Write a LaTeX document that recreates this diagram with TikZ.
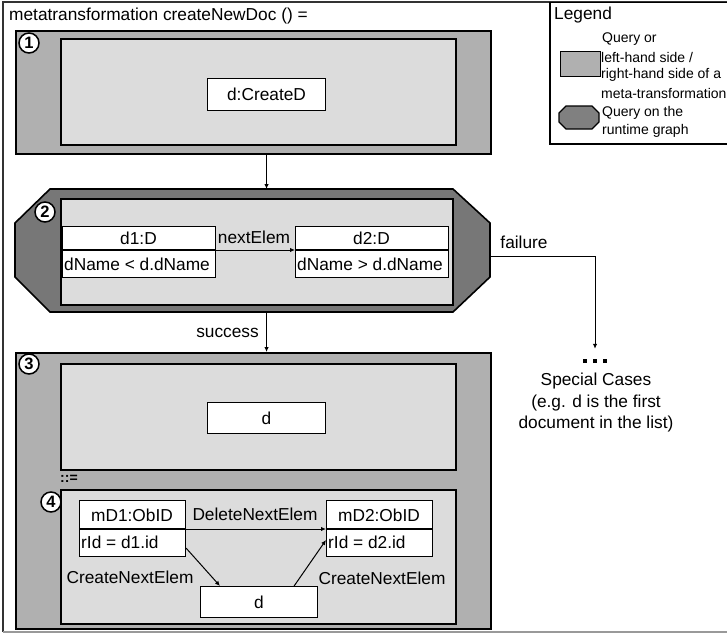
\documentclass[tikz,border=0pt]{standalone}
\usepackage{fontspec}
\setmainfont{Liberation Sans}
\usetikzlibrary{arrows.meta}
\definecolor{midgray}{HTML}{B0B0B0}
\definecolor{lightgray2}{HTML}{DCDCDC}
\definecolor{darkgray2}{HTML}{777777}
\definecolor{leggray}{HTML}{808080}
\begin{document}
\begin{tikzpicture}[x=1pt,y=-1pt,
  outerblk/.style={draw=black, line width=1.6pt, fill=midgray, inner sep=0pt, anchor=north west},
  innerblk/.style={draw=black, line width=1.6pt, fill=lightgray2, inner sep=0pt, anchor=north west},
  wbox/.style={draw=black, line width=1.1pt, fill=white, inner sep=0pt, anchor=north west, font=\fontsize{17.3}{20}\selectfont},
  lbl/.style={font=\fontsize{17.3}{21.5}\selectfont, inner sep=0pt},
  smalllbl/.style={font=\fontsize{14}{18}\selectfont, inner sep=0pt, anchor=west},
  circ/.style={circle, draw=black, fill=white, line width=1.5pt, minimum size=20pt, inner sep=0pt, font=\fontsize{16.5}{16.5}\selectfont\bfseries},
  arr/.style={line width=1pt, -{Latex[length=5pt,width=4.5pt]}},
  divline/.style={line width=1.1pt}
]
\useasboundingbox (0,0) rectangle (727,634);

% outer frame
\draw[line width=1.3pt, black!80] (3,632) -- (3,2) -- (730,2);
\draw[line width=1.3pt, black!40] (3,632) -- (730,632);

\node[lbl, anchor=west] (title) at (9,16) {metatransformation createNewDoc () =};

% legend
\node[draw=black, line width=1.5pt, minimum width=182pt, minimum height=141pt, anchor=north west, inner sep=0pt] (leg) at (549,2) {};
\node[lbl, anchor=west] (legt) at (554,15) {Legend};
\node[draw=black, fill=midgray, line width=1.2pt, minimum width=40pt, minimum height=25pt, anchor=north west, inner sep=0pt] (lg1) at (560,51) {};
\path[draw=black, fill=leggray, line width=1.2pt] (566,106) -- (592,106) -- (599,113) -- (599,122) -- (592,129) -- (566,129) -- (559,122) -- (559,113) -- cycle;
\node[smalllbl] (lq1) at (602,39) {Query or};
\node[smalllbl] (lq2) at (601,57) {left-hand side /};
\node[smalllbl] (lq3) at (601,75) {right-hand side of a};
\node[smalllbl] (lq4) at (601,93) {meta-transformation};
\node[smalllbl] (lq5) at (602,113) {Query on the};
\node[smalllbl] (lq6) at (602,131) {runtime graph};

% block 1
\node[outerblk, minimum width=475pt, minimum height=123pt] (b1) at (15,30) {};
\node[innerblk, minimum width=395pt, minimum height=106pt] (b1i) at (60,38) {};
\node[wbox, minimum width=118pt, minimum height=32pt] (dc) at (207,78) {d:CreateD};
\node[circ] (c1) at (29,43) {1};

% block 2
\node[minimum width=475pt, minimum height=123pt, anchor=north west, inner sep=0pt] (b2) at (15,189) {};
\path[draw=black, fill=darkgray2, line width=1.6pt] (50,189) -- (453,189) -- (490,223) -- (490,277) -- (453,312) -- (50,312) -- (15,277) -- (15,223) -- cycle;
\node[innerblk, minimum width=392pt, minimum height=106pt] (b2i) at (60,198) {};
\coordinate (s2) at (0,250);
\node[wbox, minimum width=153pt, minimum height=51pt] (d1) at (62,226) {};
\draw[divline] (d1.west |- s2) -- (d1.east |- s2);
\node[lbl] (d1n) at (138.5,238) {d1:D};
\node[lbl, anchor=west] (d1a) at (64,264) {dName < d.dName};
\node[wbox, minimum width=153pt, minimum height=51pt] (d2) at (295,226) {};
\draw[divline] (d2.west |- s2) -- (d2.east |- s2);
\node[lbl] (d2n) at (371.5,238) {d2:D};
\node[lbl, anchor=west] (d2a) at (297,264) {dName > d.dName};
\draw[arr] (d1.east |- s2) -- (d2.west |- s2);
\node[lbl] (nel) at (254,237) {nextElem};
\node[circ] (c2) at (45,212) {2};

\draw[arr] (b1.south -| dc) -- (b2.north -| dc);

% failure
\coordinate (b2r) at (490,256);
\node[inner sep=0pt] (dots) at (595,361) {\rule{4pt}{4pt}\hspace{6pt}\rule{4pt}{4pt}\hspace{6pt}\rule{4pt}{4pt}};
\draw[arr] (b2r) -| ([yshift=10pt]dots.north);
\node[lbl] (fl) at (524,242) {failure};
\node[lbl, align=center] (sc) at (596,403) {Special Cases\\(e.g. d is the first\\document in the list)};

% block 3
\node[outerblk, minimum width=475pt, minimum height=276pt] (b3) at (15,352) {};
\node[innerblk, minimum width=395pt, minimum height=106pt] (b3i) at (60,363) {};
\node[wbox, minimum width=118pt, minimum height=31pt] (dtop) at (207,402) {d};
\node[font=\fontsize{14}{14}\selectfont\bfseries, inner sep=0pt, anchor=west] (defs) at (60,479) {::=};
\node[innerblk, minimum width=395pt, minimum height=134pt] (b4) at (60,489) {};
\node[circ] (c3) at (29,364) {3};
\node[circ] (c4) at (51,502) {4};

\draw[arr] (b2.south -| dc) -- (b3.north -| dc);
\node[lbl, anchor=east] (sl) at (259,333) {success};

\coordinate (s4) at (0,529);
\node[wbox, minimum width=106pt, minimum height=56pt] (mD1) at (79,500) {};
\draw[divline] (mD1.west |- s4) -- (mD1.east |- s4);
\node[lbl] (mD1n) at (132,515) {mD1:ObID};
\node[lbl, anchor=west] (mD1a) at (81,542) {rId = d1.id};
\node[wbox, minimum width=106pt, minimum height=56pt] (mD2) at (326,500) {};
\draw[divline] (mD2.west |- s4) -- (mD2.east |- s4);
\node[lbl] (mD2n) at (379,515) {mD2:ObID};
\node[lbl, anchor=west] (mD2a) at (328,542) {rId = d2.id};
\draw[arr] (mD1.east |- s4) -- (mD2.west |- s4);
\node[lbl] (dnl) at (255,514) {DeleteNextElem};

\node[wbox, minimum width=117pt, minimum height=31pt] (dd) at (200,586) {d};
\draw[arr] ([yshift=9pt]mD1.south east) -- ([xshift=20pt]dd.north west);
\draw[arr] ([xshift=-24pt]dd.north east) -- ([yshift=-40pt]mD2.north west);
\node[lbl] (cnl1) at (130,577) {CreateNextElem};
\node[lbl] (cnl2) at (382,578) {CreateNextElem};
\end{tikzpicture}
\end{document}
